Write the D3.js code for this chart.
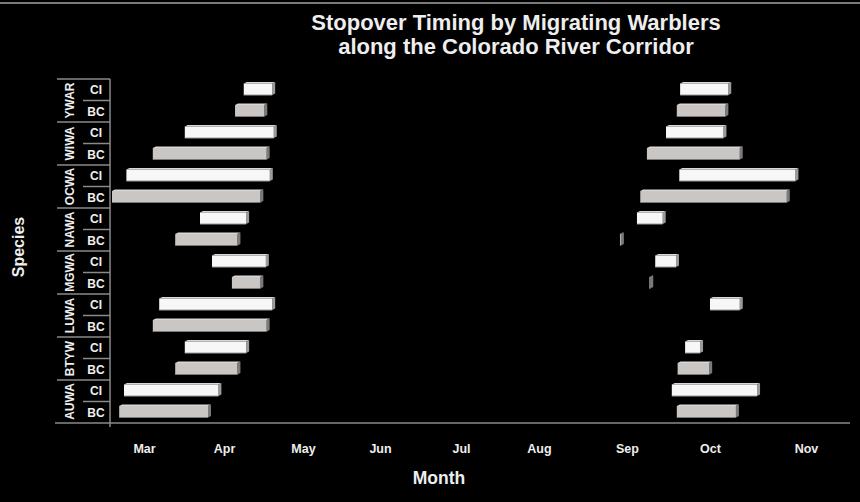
<!DOCTYPE html>
<html lang="en">
<head>
<meta charset="UTF-8">
<title>Stopover Timing by Migrating Warblers</title>
<script src="https://d3js.org/d3.v7.min.js"></script>
<style>
    body { margin: 0; background: #000; }
    svg { display: block; font-family: "Liberation Sans", Arial, sans-serif; }
    .lbl { fill: #eeeeee; font-weight: bold; }
    .narrow { font-family: "Liberation Sans Narrow", "Liberation Sans", Arial, sans-serif; }
</style>
</head>
<body>
<svg id="chart"></svg>
<script>
    // species from top to bottom, each with two sites
    const species = ["YWAR", "WIWA", "OCWA", "NAWA", "MGWA", "LUWA", "BTYW", "AUWA"];
    const sites = ["CI", "BC"];

    // month ticks (3 = Mar ... 11 = Nov)
    const monthNums = [3, 4, 5, 6, 7, 8, 9, 10, 11];
    const monthLabels = ["Mar", "Apr", "May", "Jun", "Jul", "Aug", "Sep", "Oct", "Nov"];

    // stopover windows, one value per row (species x site, top to bottom), in month units
    const springStart = [4.25, 4.14, 3.51, 3.11, 2.78, 2.60, 3.70, 3.39, 3.85, 4.10, 3.19, 3.11, 3.51, 3.39, 2.75, 2.69];
    const springEnd   = [4.61, 4.51, 4.63, 4.54, 4.58, 4.46, 4.28, 4.17, 4.53, 4.46, 4.61, 4.54, 4.28, 4.17, 3.93, 3.80];
    const fallStart   = [9.64, 9.60, 9.47, 9.24, 9.63, 9.16, 9.12, 8.92, 9.34, 9.27, 10.00, null, 9.70, 9.61, 9.54, 9.60];
    const fallEnd     = [10.19, 10.16, 10.14, 10.31, 10.89, 10.80, 9.43, 8.93, 9.59, 9.28, 10.31, null, 9.88, 9.99, 10.49, 10.27];

    const W = 860, H = 502;
    const plot = { left: 110, right: 850, top: 79, bottom: 423 };
    // label positions of the month ticks on the page (the original axis is not evenly spaced)
    const monthX = [144, 224, 303, 380, 461, 539, 627, 710, 806];

    const rows = [];
    species.forEach(sp => sites.forEach(s => rows.push({ species: sp, site: s })));
    rows.forEach((r, i) => {
        r.key = r.species + "-" + r.site;
        r.spring = [springStart[i], springEnd[i]];
        r.fall = fallStart[i] == null ? null : [fallStart[i], fallEnd[i]];
    });

    const svg = d3.select("#chart").attr("width", W).attr("height", H);
    svg.append("rect").attr("width", W).attr("height", H).attr("fill", "#000");
    svg.append("line").attr("x1", 0).attr("x2", W).attr("y1", 3).attr("y2", 3)
        .attr("stroke", "#7a7a7a").attr("stroke-width", 2);

    const x = d3.scaleLinear().domain(monthNums).range(monthX);
    const y = d3.scaleBand().domain(rows.map(r => r.key)).range([plot.top, plot.bottom]);

    // title
    const title = svg.append("text").attr("class", "lbl").attr("text-anchor", "middle")
        .style("font-size", "22px");
    title.append("tspan").attr("x", 516).attr("y", 30).text("Stopover Timing by Migrating Warblers");
    title.append("tspan").attr("x", 516).attr("y", 54).text("along the Colorado River Corridor");

    // row separators on the left
    const sepColor = "#8a8a8a";
    rows.forEach((r, i) => {
        svg.append("line")
            .attr("x1", i % 2 === 0 ? 57 : 83).attr("x2", plot.left)
            .attr("y1", y(r.key)).attr("y2", y(r.key))
            .attr("stroke", sepColor).attr("stroke-width", 1.5);
    });
    svg.append("line").attr("x1", plot.left).attr("x2", plot.left)
        .attr("y1", plot.top).attr("y2", plot.bottom + 4)
        .attr("stroke", sepColor).attr("stroke-width", 1.5);
    svg.append("line").attr("x1", 55).attr("x2", plot.right)
        .attr("y1", plot.bottom).attr("y2", plot.bottom)
        .attr("stroke", sepColor).attr("stroke-width", 1.5);

    // site labels
    svg.append("g").selectAll("text").data(rows).join("text")
        .attr("class", "lbl narrow")
        .attr("x", 96).attr("y", d => y(d.key) + y.bandwidth() / 2)
        .attr("dy", "0.36em").attr("text-anchor", "middle")
        .style("font-size", "12px")
        .text(d => d.site);

    // species labels (rotated)
    svg.append("g").selectAll("text").data(species).join("text")
        .attr("class", "lbl narrow")
        .attr("transform", d => `translate(70,${y(d + "-CI") + y.bandwidth()}) rotate(-90)`)
        .attr("dy", "0.36em").attr("text-anchor", "middle")
        .style("font-size", "12px")
        .text(d => d);

    // month axis
    const xAxis = svg.append("g")
        .attr("transform", `translate(0,${plot.bottom})`)
        .call(d3.axisBottom(x).tickValues(monthNums).tickSize(0).tickPadding(21)
            .tickFormat((d, i) => monthLabels[i]));
    xAxis.select(".domain").remove();
    xAxis.selectAll("text").attr("class", "lbl narrow")
        .attr("fill", null).style("font-size", "12.5px");

    svg.append("text").attr("class", "lbl narrow").attr("x", 439).attr("y", 484)
        .attr("text-anchor", "middle").style("font-size", "17.5px").text("Month");
    svg.append("text").attr("class", "lbl")
        .attr("transform", "translate(24,247) rotate(-90)")
        .attr("text-anchor", "middle").style("font-size", "16px").text("Species");

    // 3D-looking bars
    const bars = [];
    rows.forEach(r => {
        bars.push({ row: r, span: r.spring });
        if (r.fall) bars.push({ row: r, span: r.fall });
    });
    const barH = 11.5, depth = 3;
    const g = svg.append("g");
    bars.forEach(b => {
        const x0 = x(b.span[0]), x1 = x(b.span[1]);
        const yTop = y(b.row.key) + (y.bandwidth() - barH) / 2 - 0.5;
        const front = b.row.site === "CI" ? "#f7f7f7" : "#c9c6c3";
        const side = b.row.site === "CI" ? "#9a9a9a" : "#7c7a78";
        g.append("polygon")
            .attr("points", [[x0, yTop], [x0 + depth, yTop - 1.5], [x1 + depth, yTop - 1.5], [x1, yTop]].join(" "))
            .attr("fill", "#d8d8d8");
        g.append("polygon")
            .attr("points", [[x1, yTop], [x1 + depth, yTop - 1.5], [x1 + depth, yTop + barH - 1.5], [x1, yTop + barH]].join(" "))
            .attr("fill", side);
        g.append("rect")
            .attr("x", x0).attr("y", yTop)
            .attr("width", Math.max(0, x1 - x0)).attr("height", barH)
            .attr("fill", front);
        g.append("line")
            .attr("x1", x0).attr("x2", x1).attr("y1", yTop + barH).attr("y2", yTop + barH)
            .attr("stroke", side).attr("stroke-width", 1);
    });
</script>
</body>
</html>
